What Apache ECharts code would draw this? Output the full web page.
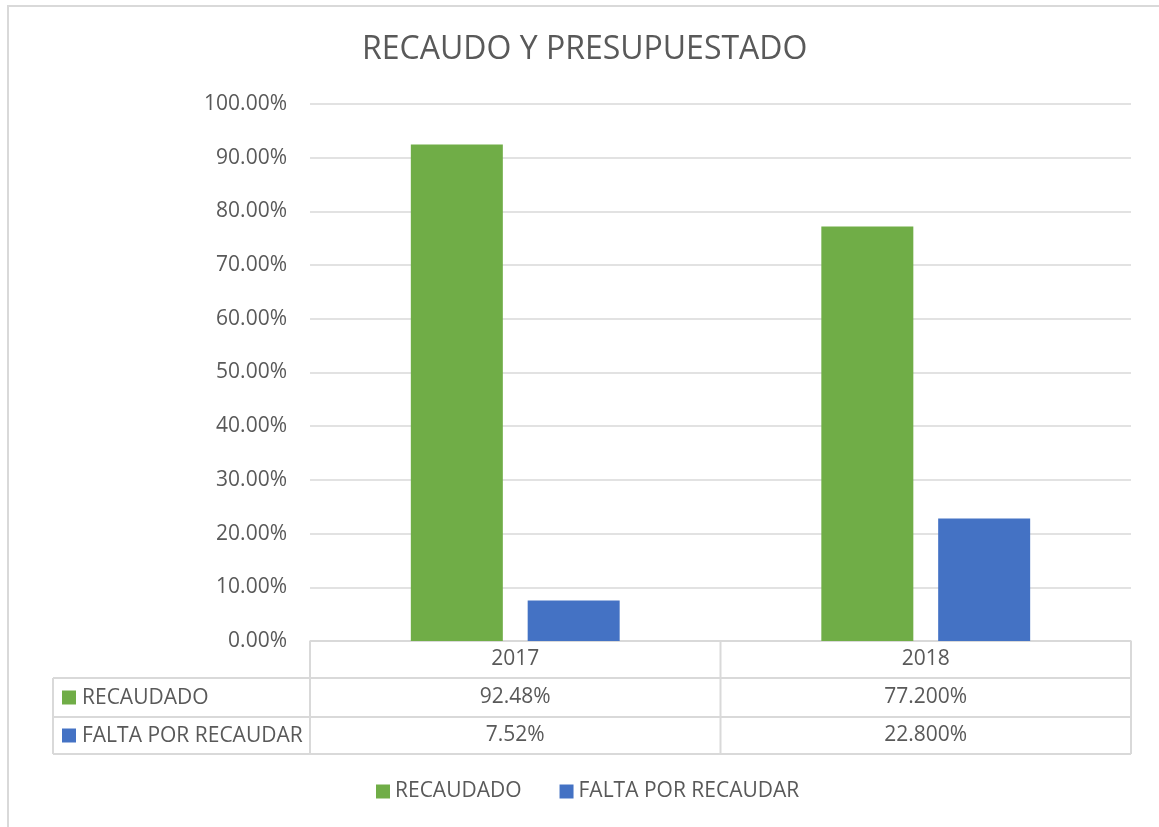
<!DOCTYPE html>
<html>
<head>
<meta charset="utf-8">
<script src="https://cdn.jsdelivr.net/npm/echarts@6/dist/echarts.min.js"></script>
<style>
html,body{margin:0;padding:0;background:#fff;}
#chart{width:1159px;height:827px;}
</style>
</head>
<body>
<div id="chart"></div>
<script>
const title = 'RECAUDO Y PRESUPUESTADO';
const categories = ['2017', '2018'];
const seriesNames = ['RECAUDADO', 'FALTA POR RECAUDAR'];
const recaudado = [0.9248, 0.772];
const faltaPorRecaudar = [0.0752, 0.228];
const recaudadoLabels = ['92.48%', '77.200%'];
const faltaLabels = ['7.52%', '22.800%'];
const yTicks = [0, 0.1, 0.2, 0.3, 0.4, 0.5, 0.6, 0.7, 0.8, 0.9, 1.0];

const FONT = '"Open Sans", sans-serif';
const TXT = '#595959';
const LINE = '#d9d9d9';
const GREEN = '#70AD47';
const BLUE = '#4472C4';
const FS = 21;

const chart = echarts.init(document.getElementById('chart'), null, {renderer: 'canvas'});

const option = {
  animation: false,
  backgroundColor: '#fff',
  textStyle: {fontFamily: FONT},
  title: {
    text: title, left: 357, top: 29,
    textStyle: {fontFamily: FONT, fontSize: 32, fontWeight: 'normal', color: TXT}
  },
  legend: {
    bottom: 20, left: 371,
    icon: 'rect', itemWidth: 14, itemHeight: 14, itemGap: 38,
    textStyle: {fontFamily: FONT, fontSize: FS, color: TXT},
    data: seriesNames
  },
  grid: {left: 310, right: 28, top: 104, bottom: 186, containLabel: false},
  xAxis: {
    type: 'category', data: categories,
    axisLine: {show: true, lineStyle: {color: LINE, width: 1.5}},
    axisTick: {show: false},
    axisLabel: {show: false},
    splitLine: {show: false}
  },
  yAxis: {
    type: 'value', min: yTicks[0], max: yTicks[yTicks.length - 1], interval: 0.1,
    axisLine: {show: false}, axisTick: {show: false},
    axisLabel: {
      fontFamily: FONT, fontSize: FS, color: TXT, margin: 23,
      formatter: v => (v * 100).toFixed(2) + '%'
    },
    splitLine: {lineStyle: {color: LINE, width: 1.5}}
  },
  series: [
    {name: seriesNames[0], type: 'bar', data: recaudado, barWidth: 92, barGap: '27%', itemStyle: {color: GREEN}},
    {name: seriesNames[1], type: 'bar', data: faltaPorRecaudar, barWidth: 92, itemStyle: {color: BLUE}}
  ]
};
chart.setOption(option);

// Data table, positioned from the chart's own axis scale
function buildTable() {
  const gridModel = chart.getModel().getComponent('grid', 0);
  const rect = gridModel.coordinateSystem.getRect();
  const x0 = rect.x, x1 = rect.x + rect.width, yTop = rect.y + rect.height;
  const bandW = rect.width / categories.length;
  const rowH = [37, 39, 37];
  const rowsY = [yTop, yTop + rowH[0], yTop + rowH[0] + rowH[1], yTop + rowH[0] + rowH[1] + rowH[2]];
  const tableLeft = 53;
  const els = [];
  const ls = {stroke: LINE, lineWidth: 2};
  // outer chart border
  els.push({type: 'rect', shape: {x: 8, y: 6, width: 1160, height: 840}, style: {fill: null, stroke: '#d9d9d9', lineWidth: 2}, silent: true});
  // horizontal lines
  els.push({type: 'line', shape: {x1: x0, y1: rowsY[0], x2: x1, y2: rowsY[0]}, style: ls});
  for (let i = 1; i < rowsY.length; i++) {
    els.push({type: 'line', shape: {x1: tableLeft, y1: rowsY[i], x2: x1, y2: rowsY[i]}, style: ls});
  }
  // vertical lines
  els.push({type: 'line', shape: {x1: tableLeft, y1: rowsY[1], x2: tableLeft, y2: rowsY[3]}, style: ls});
  for (let c = 0; c <= categories.length; c++) {
    const x = x0 + c * bandW;
    els.push({type: 'line', shape: {x1: x, y1: rowsY[0], x2: x, y2: rowsY[3]}, style: ls});
  }
  const tStyle = (t, x, y, align) => ({type: 'text', x: x, y: y, style: {text: t, fontFamily: FONT, fontSize: FS, fill: TXT, align: align || 'center', verticalAlign: 'middle'}});
  const mid = i => (rowsY[i] + rowsY[i + 1]) / 2;
  categories.forEach((c, i) => {
    const cx = chart.convertToPixel({xAxisIndex: 0}, c);
    els.push(tStyle(c, cx, mid(0)));
    els.push(tStyle(recaudadoLabels[i], cx, mid(1)));
    els.push(tStyle(faltaLabels[i], cx, mid(2)));
  });
  const colors = [GREEN, BLUE];
  seriesNames.forEach((n, i) => {
    const cy = mid(i + 1);
    els.push({type: 'rect', shape: {x: 62, y: cy - 7, width: 14, height: 14}, style: {fill: colors[i]}});
    els.push(tStyle(n, 82, cy + 1, 'left'));
  });
  chart.setOption({graphic: els});
}
buildTable();
</script>
</body>
</html>
